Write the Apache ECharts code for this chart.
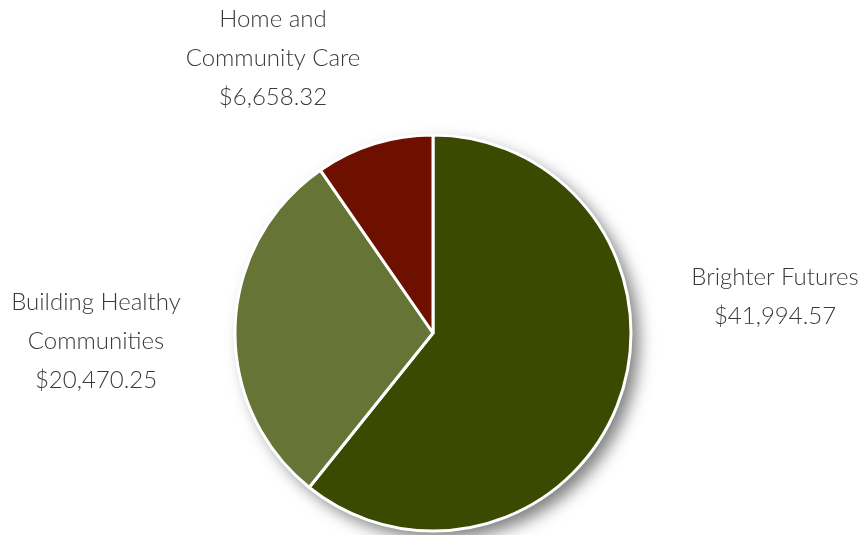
<!DOCTYPE html>
<html><head><meta charset="utf-8">
<script src="https://cdn.jsdelivr.net/npm/echarts@6/dist/echarts.min.js"></script>
<style>html,body{margin:0;padding:0;background:#fff}#c{width:864px;height:535px}</style>
</head><body><div id="c"></div>
<script>
const categories = ["Brighter Futures", "Building Healthy\nCommunities", "Home and\nCommunity Care"];
const values = [41994.57, 20470.25, 6658.32];
const colors = ["#3a4a00", "#667436", "#6e1000"];
const labelPos = [[775, 297], [96, 341], [273, 58]];

const chart = echarts.init(document.getElementById('c'));
const fmt = v => '$' + v.toLocaleString('en-US', {minimumFractionDigits: 2, maximumFractionDigits: 2});
const total = values.reduce((a, b) => a + b, 0);
chart.setOption({
  animation: false,
  series: [{
    type: 'pie', silent: true, z: 1,
    center: [433, 333], radius: 198,
    data: [{value: total, itemStyle: {color: '#fff'}}],
    itemStyle: {shadowBlur: 16, shadowOffsetX: 8, shadowOffsetY: 8, shadowColor: 'rgba(0,0,0,0.5)'},
    label: {show: false}, labelLine: {show: false}
  }, {
    type: 'pie', z: 2,
    center: [433, 333],
    radius: 198,
    startAngle: 90,
    clockwise: true,
    data: categories.map((c, i) => ({name: c, value: values[i], itemStyle: {color: colors[i]}})),
    itemStyle: {borderColor: '#fff', borderWidth: 3},
    label: {
      show: true,
      formatter: p => p.name + '\n' + fmt(p.value),
      fontFamily: 'Lato', fontWeight: 300, fontSize: 24, lineHeight: 39, color: '#3a3a3a', align: 'center'
    },
    labelLine: {show: false},
    labelLayout: p => ({x: labelPos[p.dataIndex][0], y: labelPos[p.dataIndex][1], align: 'center', verticalAlign: 'middle'})
  }]
});
</script></body></html>
